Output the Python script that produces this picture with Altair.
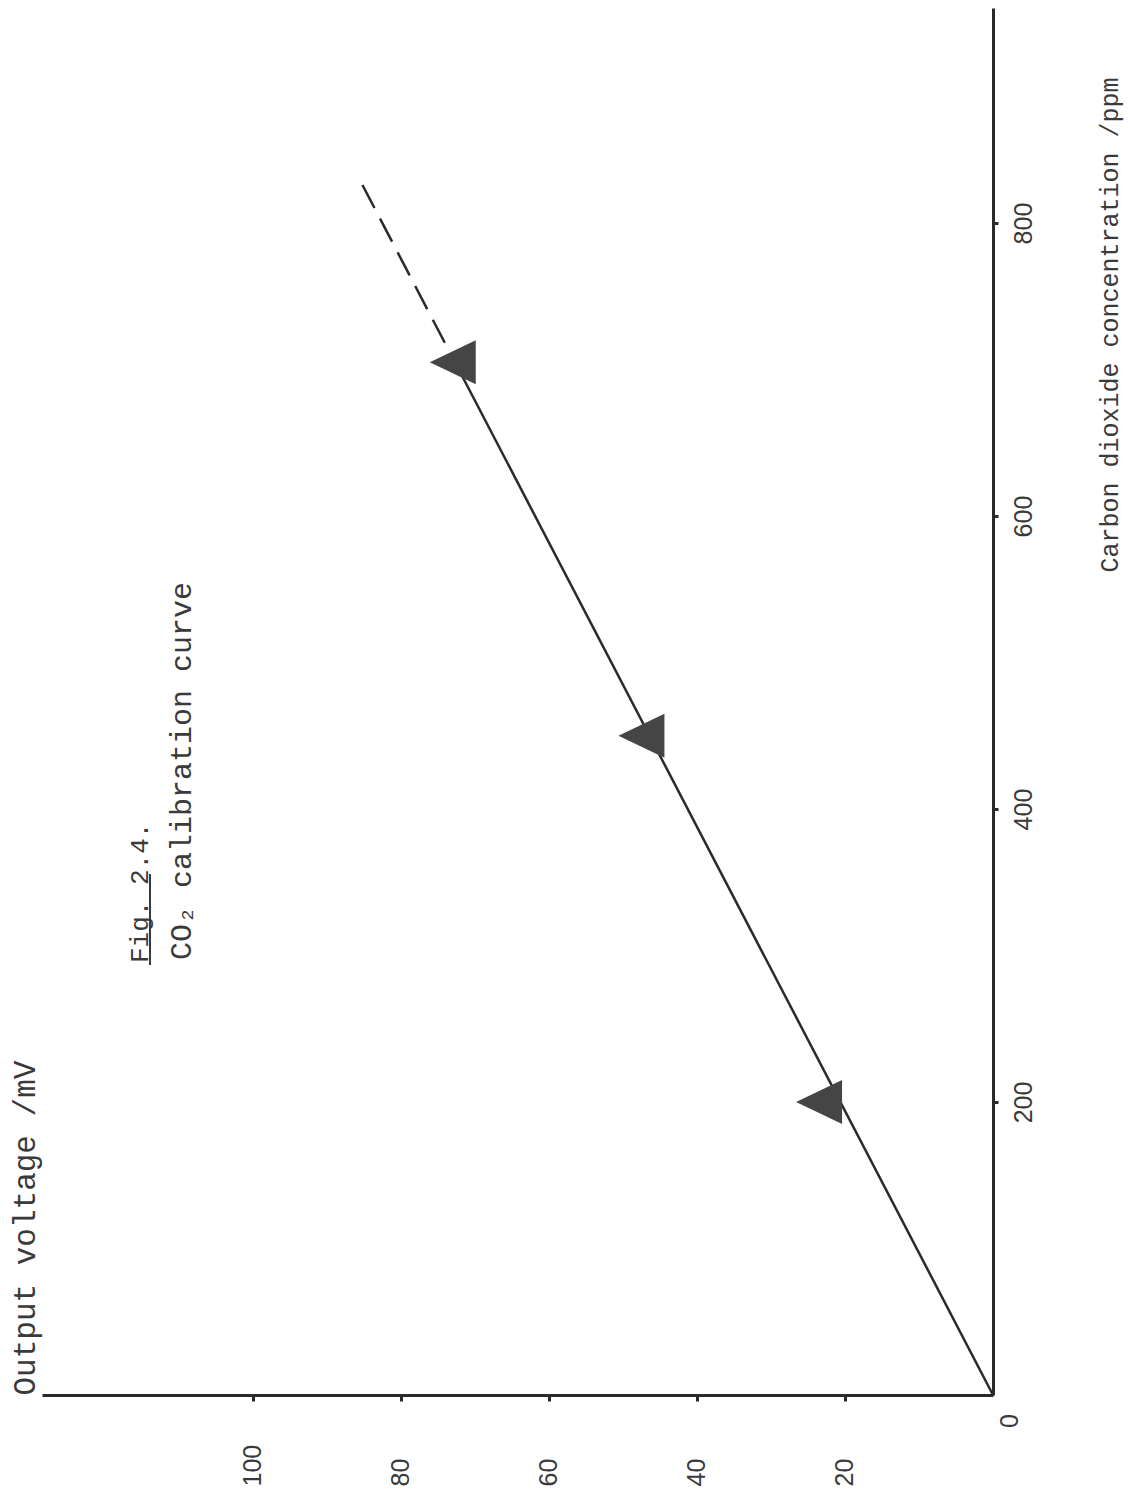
import altair as alt
import pandas as pd

# Data read from the (rotated) figure
voltage_mv = [23.5, 47.5, 73.0]          # Output voltage /mV
conc_ppm = [200, 450, 705]               # CO2 concentration /ppm

fit_solid_v = [0.0, 72.7]
fit_solid_c = [0, 705]
fit_dash_v = [72.7, 85.2]
fit_dash_c = [705, 826]

x_ticks = [20, 40, 60, 80, 100]
y_ticks = [200, 400, 600, 800]

pts = pd.DataFrame({"v": voltage_mv, "c": conc_ppm})
solid = pd.DataFrame({"v": fit_solid_v, "c": fit_solid_c})
dash = pd.DataFrame({"v": fit_dash_v, "c": fit_dash_c})
zero = pd.DataFrame({"v": [0], "c": [0], "t": ["0"]})

INK = "#2a2a2a"
TXT = "#3a3a3a"
MONO = "Liberation Mono"
NUM = "Liberation Sans"

xscale = alt.Scale(domain=[0, 128.5], reverse=True, nice=False, zero=False)
yscale = alt.Scale(domain=[0, 946.8], nice=False, zero=False)

xaxis = alt.Axis(
    values=x_ticks, title="Output voltage /mV", grid=False,
    domainColor=INK, domainWidth=3, tickColor=INK, tickWidth=3, tickSize=6,
    labelAngle=270, labelAlign="left", labelBaseline="middle", labelPadding=85,
    labelFont=NUM, labelFontSize=25, labelColor=TXT,
    titleFont=MONO, titleFontSize=31, titleFontWeight="normal", titleColor=TXT,
    titleAngle=270, titleAlign="left", titleBaseline="middle", titleX=-17, titleY=0,
)
yaxis = alt.Axis(
    values=y_ticks, orient="right", title="Carbon dioxide concentration /ppm", grid=False,
    domainColor=INK, domainWidth=3, tickColor=INK, tickWidth=3, tickSize=5,
    labelAngle=270, labelAlign="center", labelBaseline="middle", labelPadding=25,
    labelFont=NUM, labelFontSize=25, labelColor=TXT,
    titleFont=MONO, titleFontSize=25, titleFontWeight="normal", titleColor=TXT,
    titleAngle=270, titleAlign="left", titleBaseline="middle", titleX=116, titleY=564,
)

base_x = alt.X("v:Q", scale=xscale, axis=xaxis)
base_y = alt.Y("c:Q", scale=yscale, axis=yaxis)

line_solid = alt.Chart(solid).mark_line(color=INK, strokeWidth=2.5).encode(x=base_x, y=base_y)
line_dash = alt.Chart(dash).mark_line(color=INK, strokeWidth=2.5, strokeDash=[26, 12]).encode(
    x=alt.X("v:Q", scale=xscale), y=alt.Y("c:Q", scale=yscale))

tri = alt.Chart(pts).mark_point(
    shape="M-1,0L1,-0.96L1,0.96Z", size=2116, filled=True, fill="#454545", opacity=1, strokeWidth=0
).encode(x=alt.X("v:Q", scale=xscale), y=alt.Y("c:Q", scale=yscale))

zero_lbl = alt.Chart(zero).mark_text(
    angle=270, font=NUM, fontSize=25, color=TXT, align="center", baseline="middle", dx=-26, dy=17
).encode(x=alt.X("v:Q", scale=xscale), y=alt.Y("c:Q", scale=yscale), text="t:N")

fig_lbl = alt.Chart(pd.DataFrame({"t": ["Fig. 2.4."]})).mark_text(
    angle=270, font=MONO, fontSize=26, color=TXT, align="left", baseline="middle"
).encode(x=alt.value(98), y=alt.value(955), text="t:N")

underline = alt.Chart(pd.DataFrame({"a": [0]})).mark_rule(color=TXT, strokeWidth=2).encode(
    x=alt.value(108), y=alt.value(957), y2=alt.value(866))

cap_lbl = alt.Chart(pd.DataFrame({"t": ["CO\u2082 calibration curve"]})).mark_text(
    angle=270, font=MONO, fontSize=30, color=TXT, align="left", baseline="middle"
).encode(x=alt.value(140), y=alt.value(952), text="t:N")

chart = alt.layer(line_solid, line_dash, tri, zero_lbl, fig_lbl, underline, cap_lbl).properties(
    width=951, height=1387,
    autosize=alt.AutoSizeParams(type="none"),
    padding={"left": 34, "top": 0, "right": 132, "bottom": 94},
    background="white",
).configure_view(stroke=None)

chart.save("out.html", embed_options={"renderer": "svg", "actions": False})
